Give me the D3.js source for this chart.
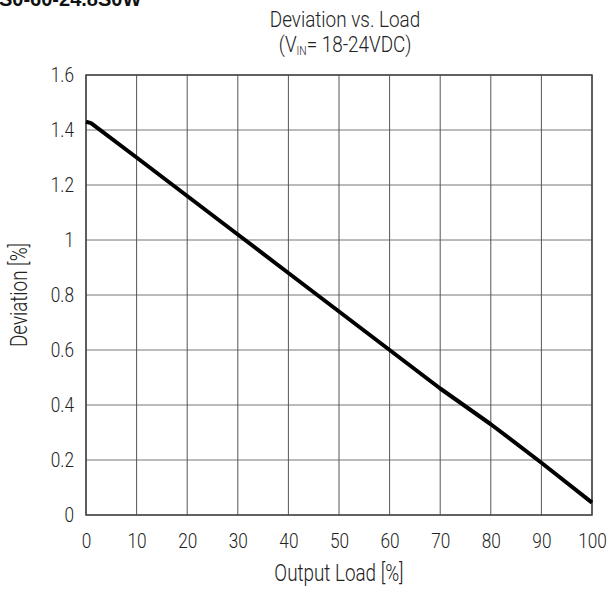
<!DOCTYPE html>
<html>
<head>
<meta charset="utf-8">
<script src="https://cdn.jsdelivr.net/npm/d3@7"></script>
<style>
  body { margin: 0; background: #fff; }
  svg text { font-family: "Roboto", "Liberation Sans", sans-serif; font-weight: 300; fill: #222; }
</style>
</head>
<body>
<svg id="chart"></svg>
<script>
// chart data
const loads = [0, 1, 10, 20, 30, 40, 50, 60, 70, 80, 90, 100];
const deviation = [1.43, 1.425, 1.30, 1.16, 1.02, 0.88, 0.74, 0.60, 0.46, 0.33, 0.19, 0.045];
const xTicks = [0, 10, 20, 30, 40, 50, 60, 70, 80, 90, 100];
const yTicks = [0, 0.2, 0.4, 0.6, 0.8, 1, 1.2, 1.4, 1.6];

const squeeze = 0.82; // fake a condensed face

function drawChart() {
  const W = 608, H = 589;
  const margin = { top: 75, right: 16, bottom: 74, left: 86 };

  const svg = d3.select('#chart')
    .attr('width', W)
    .attr('height', H);

  const x = d3.scaleLinear().domain([0, 100]).range([margin.left, W - margin.right]);
  const y = d3.scaleLinear().domain([0, 1.6]).range([H - margin.bottom, margin.top]);

  // narrow text helper
  function label(px, py, str, size, rot, sx) {
    const g = svg.append('g')
      .attr('transform', `translate(${px},${py})` + (rot ? ` rotate(${rot})` : ''));
    return g.append('text')
      .attr('transform', `scale(${sx || squeeze},1)`)
      .attr('text-anchor', 'middle')
      .attr('font-size', size + 'px')
      .text(str);
  }

  // cut-off header from the datasheet page
  svg.append('text')
    .attr('x', -1)
    .attr('y', 6)
    .attr('font-size', '20px')
    .style('font-weight', 'bold')
    .style('font-family', '"Liberation Sans", Arial, sans-serif')
    .style('fill', '#111')
    .text('S0-60-24.8S0W');

  // grid
  svg.append('g')
    .selectAll('line')
    .data(yTicks)
    .join('line')
    .attr('x1', x(0)).attr('x2', x(100))
    .attr('y1', d => y(d)).attr('y2', d => y(d))
    .style('stroke', '#777')
    .style('stroke-width', 1);

  svg.append('g')
    .selectAll('line')
    .data(xTicks)
    .join('line')
    .attr('x1', d => x(d)).attr('x2', d => x(d))
    .attr('y1', y(0)).attr('y2', y(1.6))
    .style('stroke', '#555')
    .style('stroke-width', 1);

  // frame
  svg.append('rect')
    .attr('x', x(0)).attr('y', y(1.6))
    .attr('width', x(100) - x(0))
    .attr('height', y(0) - y(1.6))
    .style('fill', 'none')
    .style('stroke', '#444')
    .style('stroke-width', 1.5);

  // axes (labels only)
  const xAxis = svg.append('g')
    .attr('transform', `translate(0,${y(0)})`)
    .call(d3.axisBottom(x).tickValues(xTicks).tickSize(0).tickPadding(18).tickFormat(d3.format('d')));
  xAxis.select('.domain').remove();
  xAxis.selectAll('text')
    .attr('font-size', '21px')
    .attr('transform', `scale(${squeeze},1)`)
    .style('font-family', null);

  const yAxis = svg.append('g')
    .attr('transform', `translate(${x(0)},0)`)
    .call(d3.axisLeft(y).tickValues(yTicks).tickSize(0).tickFormat(d => String(+d.toFixed(1))));
  yAxis.select('.domain').remove();
  yAxis.selectAll('text')
    .attr('font-size', '21px')
    .attr('x', -12 / squeeze)
    .attr('transform', `scale(${squeeze},1)`)
    .style('font-family', null);

  // curve
  const pts = loads.map((l, i) => [l, deviation[i]]);
  svg.append('path')
    .datum(pts)
    .attr('d', d3.line().x(d => x(d[0])).y(d => y(d[1])))
    .style('fill', 'none')
    .style('stroke', '#000')
    .style('stroke-width', 4)
    .style('stroke-linejoin', 'round');

  // titles
  const cx = 345;
  label(cx, 27, 'Deviation vs. Load', 22, 0, 0.86);

  const t2 = label(cx, 52, null, 22, 0, 0.86);
  t2.append('tspan').text('(V');
  t2.append('tspan').attr('font-size', '12px').attr('dy', 3).text('IN');
  t2.append('tspan').attr('dy', -3).text('= 18-24VDC)');

  label(x(50), 581, 'Output Load [%]', 23);
  label(27, y(0.8), 'Deviation [%]', 23, -90);
}

drawChart();
</script>
</body>
</html>
